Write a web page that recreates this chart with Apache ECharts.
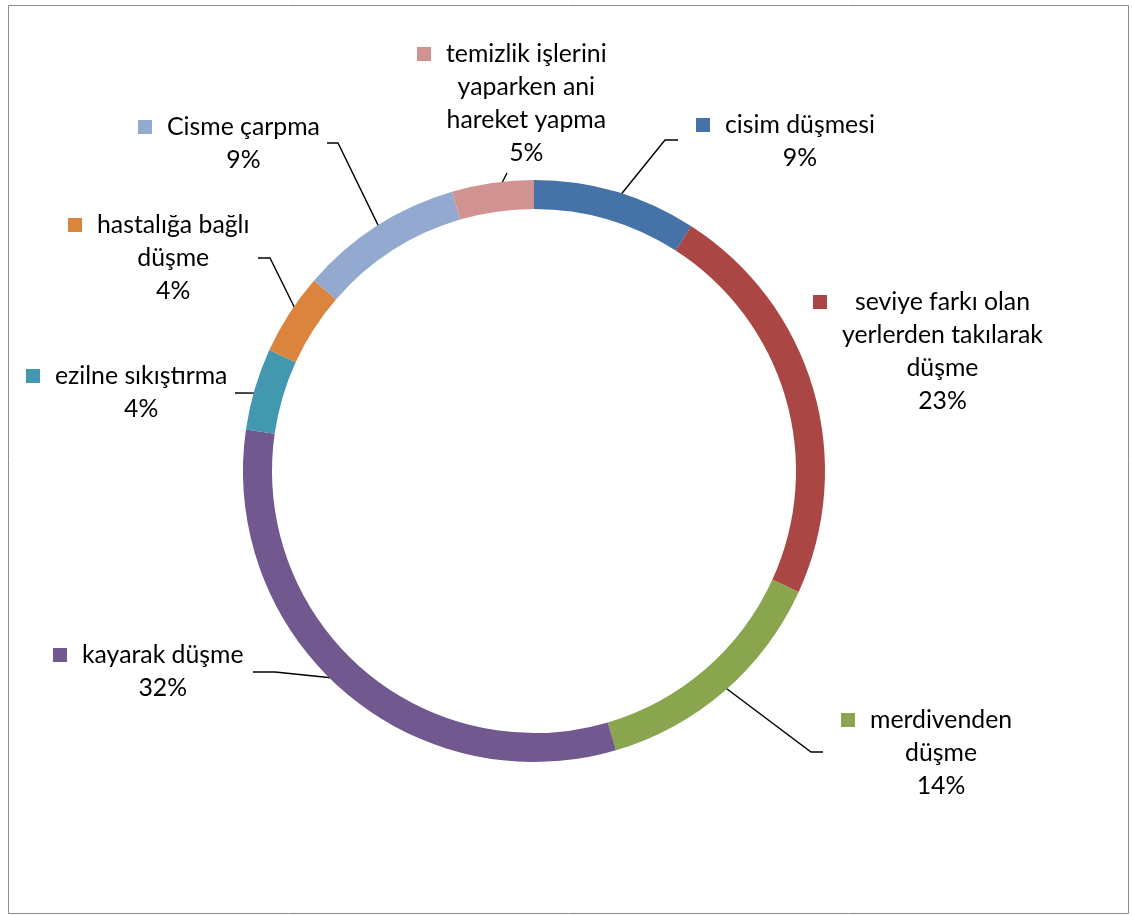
<!DOCTYPE html>
<html><head><meta charset="utf-8">
<script src="https://cdn.jsdelivr.net/npm/echarts@6/dist/echarts.min.js"></script>
<style>html,body{margin:0;padding:0;background:#fff}#c{width:1132px;height:916px}</style>
</head><body><div id="c"></div>
<script>
// ---- data ----
const categories = ['cisim düşmesi', 'seviye farkı olan\nyerlerden takılarak\ndüşme', 'merdivenden\ndüşme', 'kayarak düşme', 'ezilne sıkıştırma', 'hastalığa bağlı\ndüşme', 'Cisme çarpma', 'temizlik işlerini\nyaparken ani\nhareket yapma'];
const counts = [2, 5, 3, 7, 1, 1, 2, 1];
const percentLabels = ['9%', '23%', '14%', '32%', '4%', '4%', '9%', '5%'];
const colors = ['#4572A7', '#AA4643', '#89A54E', '#71588F', '#4198AF', '#DB843D', '#93A9CF', '#D19392'];

// ---- layout ----
const CENTER = [534, 471], R_IN = 262, R_OUT = 291;
const FONT = 'Lato', SIZE = 24.8, LH = 33;
const labelBoxes = [
  { x: 696, y: 125, guide: [[665, 140], [678, 140]] },
  { x: 813, y: 302, guide: null },
  { x: 841, y: 720, guide: [[811, 752], [823, 752]] },
  { x: 53, y: 655, guide: [[275, 672], [253, 672]] },
  { x: 26, y: 376, guide: [[235, 393]] },
  { x: 68, y: 225, guide: [[270, 258], [258, 258]] },
  { x: 138, y: 127, guide: [[338, 143], [327, 143]] },
  { x: 417, y: 54, guide: [[507, 173]] }
];

const total = counts.reduce((a, b) => a + b, 0);
const midAngles = [];
let cum = 0;
counts.forEach(v => { midAngles.push((cum + v / 2) / total * 2 * Math.PI); cum += v; });
const rMid = (R_IN + R_OUT) / 2;
function anchor(i) {
  const a = midAngles[i];
  return [CENTER[0] + rMid * Math.sin(a), CENTER[1] - rMid * Math.cos(a)];
}

const data = counts.map((v, i) => ({
  name: categories[i],
  value: v,
  itemStyle: { color: colors[i] },
  labelLine: { show: labelBoxes[i].guide != null },
  label: {
    rich: {
      m: { width: 14, height: 14, backgroundColor: colors[i], lineHeight: LH },
      g: { width: 15, lineHeight: LH },
      s: { width: 29, lineHeight: LH },
      t: { align: 'center', fontFamily: FONT, fontSize: SIZE, color: '#000', lineHeight: LH }
    }
  }
}));

const chart = echarts.init(document.getElementById('c'), null, { renderer: 'canvas' });
chart.setOption({
  animation: false,
  backgroundColor: '#fff',
  graphic: [{
    type: 'rect', silent: true, z: -10,
    shape: { x: 8.5, y: 5.5, width: 1120, height: 908 },
    style: { fill: 'none', stroke: '#8a8a8a', lineWidth: 1 }
  }],
  series: [{
    type: 'pie',
    center: CENTER,
    radius: [R_IN, R_OUT],
    startAngle: 90,
    clockwise: true,
    avoidLabelOverlap: false,
    silent: true,
    itemStyle: { borderWidth: 0 },
    label: {
      show: true,
      position: 'outside',
      formatter: p => {
        const lines = p.name.split('\n');
        lines.push(percentLabels[p.dataIndex]);
        return lines.map((l, i) => (i === 0 ? '{m|}{g|}' : '{s|}') + '{t|' + l + '}').join('\n');
      }
    },
    labelLine: { show: true, lineStyle: { color: '#000', width: 1.4 } },
    labelLayout: params => {
      const i = params.dataIndex, b = labelBoxes[i];
      const res = { x: b.x, y: b.y - LH / 2, align: 'left', verticalAlign: 'top' };
      if (b.guide) res.labelLinePoints = [anchor(i)].concat(b.guide);
      return res;
    },
    data: data
  }]
});
</script></body></html>
